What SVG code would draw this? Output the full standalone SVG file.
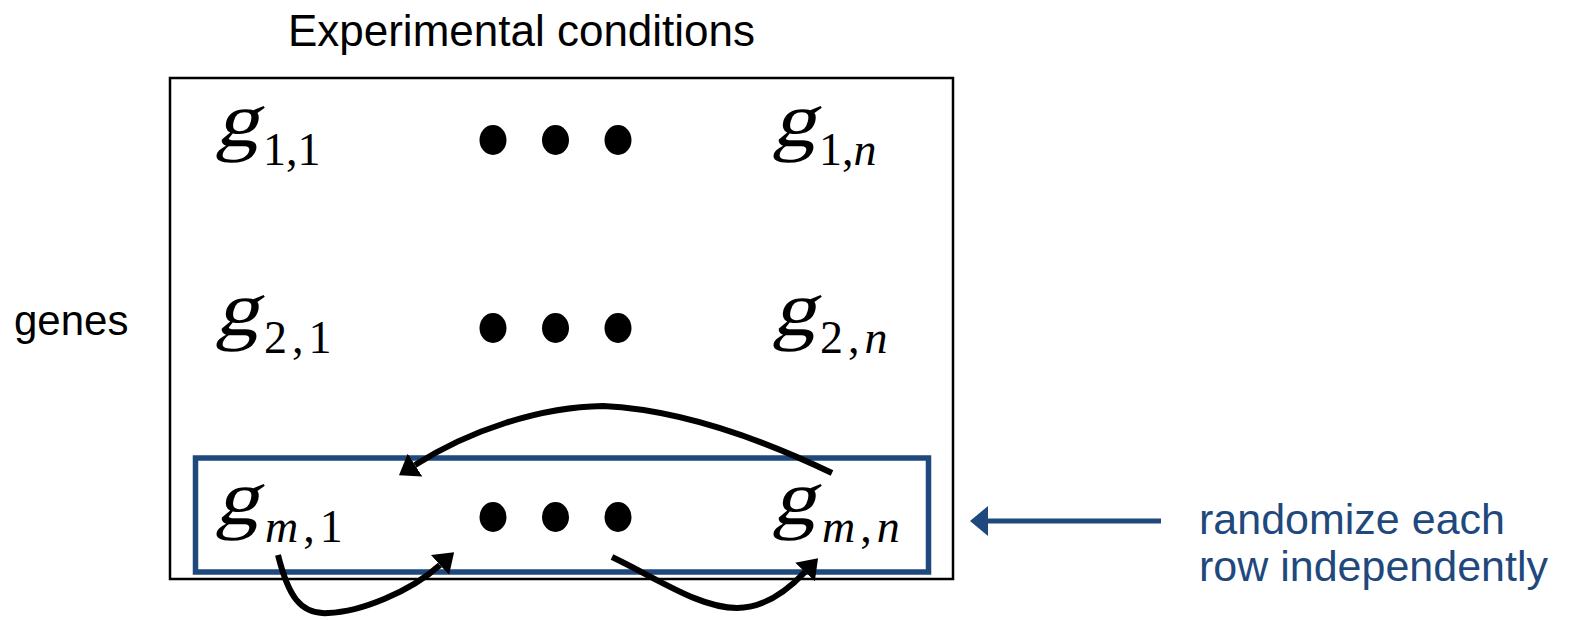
<svg xmlns="http://www.w3.org/2000/svg" width="1580" height="620" viewBox="0 0 1580 620">
<defs>
<style>
.lbl{font-family:"Liberation Sans",Arial,sans-serif;fill:#000}
.blue{font-family:"Liberation Sans",Arial,sans-serif;fill:#1F497D}
.g{font-family:"Liberation Serif","Times New Roman",serif;font-size:78px;fill:#000}
.sub{font-family:"Liberation Serif","Times New Roman",serif;font-size:46px;fill:#000}
.it{font-style:italic}
.dot{fill:#000}
.conn{fill:none;stroke:#000;stroke-width:6}
</style>
<marker id="ah" markerUnits="userSpaceOnUse" markerWidth="19" markerHeight="27" refX="0" refY="13.5" orient="auto" viewBox="0 0 19 27">
<path d="M0,0 L19,13.5 L0,27 z" fill="#000"/>
</marker>
<marker id="ahb" markerUnits="userSpaceOnUse" markerWidth="18" markerHeight="30" refX="0" refY="15" orient="auto" viewBox="0 0 18 30">
<path d="M0,0 L18,15 L0,30 z" fill="#1F497D"/>
</marker>
</defs>
<rect width="1580" height="620" fill="#fff"/>
<text class="lbl" x="521.5" y="45.6" font-size="44" text-anchor="middle">Experimental conditions</text>
<text class="lbl" x="14" y="335" font-size="42">genes</text>
<g id="matrix">
<rect x="170" y="78" width="783" height="501" fill="none" stroke="#000" stroke-width="2.5"/>
</g>
<g id="rowm">
<rect x="195.5" y="458" width="733" height="114" fill="none" stroke="#1F497D" stroke-width="5.5"/>
</g>
<g id="g11"><text class="g" transform="translate(215,146) skewX(-14) scale(1.12,1)">g</text><text class="sub" x="263" y="165">1,1</text></g>
<g id="g1n"><text class="g" transform="translate(772,146) skewX(-14) scale(1.12,1)">g</text><text class="sub" x="819" y="165">1,<tspan class="it">n</tspan></text></g>
<g id="g21"><text class="g" transform="translate(215,335) skewX(-14) scale(1.12,1)">g</text><text class="sub" x="264" y="353" letter-spacing="5">2,1</text></g>
<g id="g2n"><text class="g" transform="translate(772,335) skewX(-14) scale(1.12,1)">g</text><text class="sub" x="820" y="353" letter-spacing="5">2,<tspan class="it">n</tspan></text></g>
<g id="gm1"><text class="g" transform="translate(215,524) skewX(-14) scale(1.12,1)">g</text><text class="sub" x="265" y="542" letter-spacing="5"><tspan class="it">m</tspan>,1</text></g>
<g id="gmn"><text class="g" transform="translate(772,524) skewX(-14) scale(1.12,1)">g</text><text class="sub" x="822" y="542" letter-spacing="5"><tspan class="it">m</tspan>,<tspan class="it">n</tspan></text></g>
<g id="dots1"><ellipse class="dot" cx="493" cy="140" rx="13.5" ry="15"/><ellipse class="dot" cx="555.5" cy="140" rx="13.5" ry="15"/><ellipse class="dot" cx="618" cy="140" rx="13.5" ry="15"/></g>
<g id="dots2"><ellipse class="dot" cx="493" cy="328" rx="13.5" ry="15"/><ellipse class="dot" cx="555.5" cy="328" rx="13.5" ry="15"/><ellipse class="dot" cx="618" cy="328" rx="13.5" ry="15"/></g>
<g id="dotsm"><ellipse class="dot" cx="493" cy="517" rx="13.5" ry="15"/><ellipse class="dot" cx="555.5" cy="517" rx="13.5" ry="15"/><ellipse class="dot" cx="618" cy="517" rx="13.5" ry="15"/></g>
<g id="note"><text class="blue" x="1199" y="534" font-size="43">randomize each</text><text class="blue" x="1199" y="581" font-size="43">row independently</text></g>
<g id="connectors">
<path class="conn" d="M832,473 C780,448 690,410 603,406 C540,407 470,430 415,465" marker-end="url(#ah)"/>
<path class="conn" d="M278,555 C288,595 300,615 328,613 C360,612 410,592 440,565" marker-end="url(#ah)"/>
<path class="conn" d="M612,557 C660,580 700,608 737,608 C765,608 788,590 805,572" marker-end="url(#ah)"/>
<path d="M1161,521 L988,521" fill="none" stroke="#1F497D" stroke-width="5" marker-end="url(#ahb)"/>
</g>
</svg>
